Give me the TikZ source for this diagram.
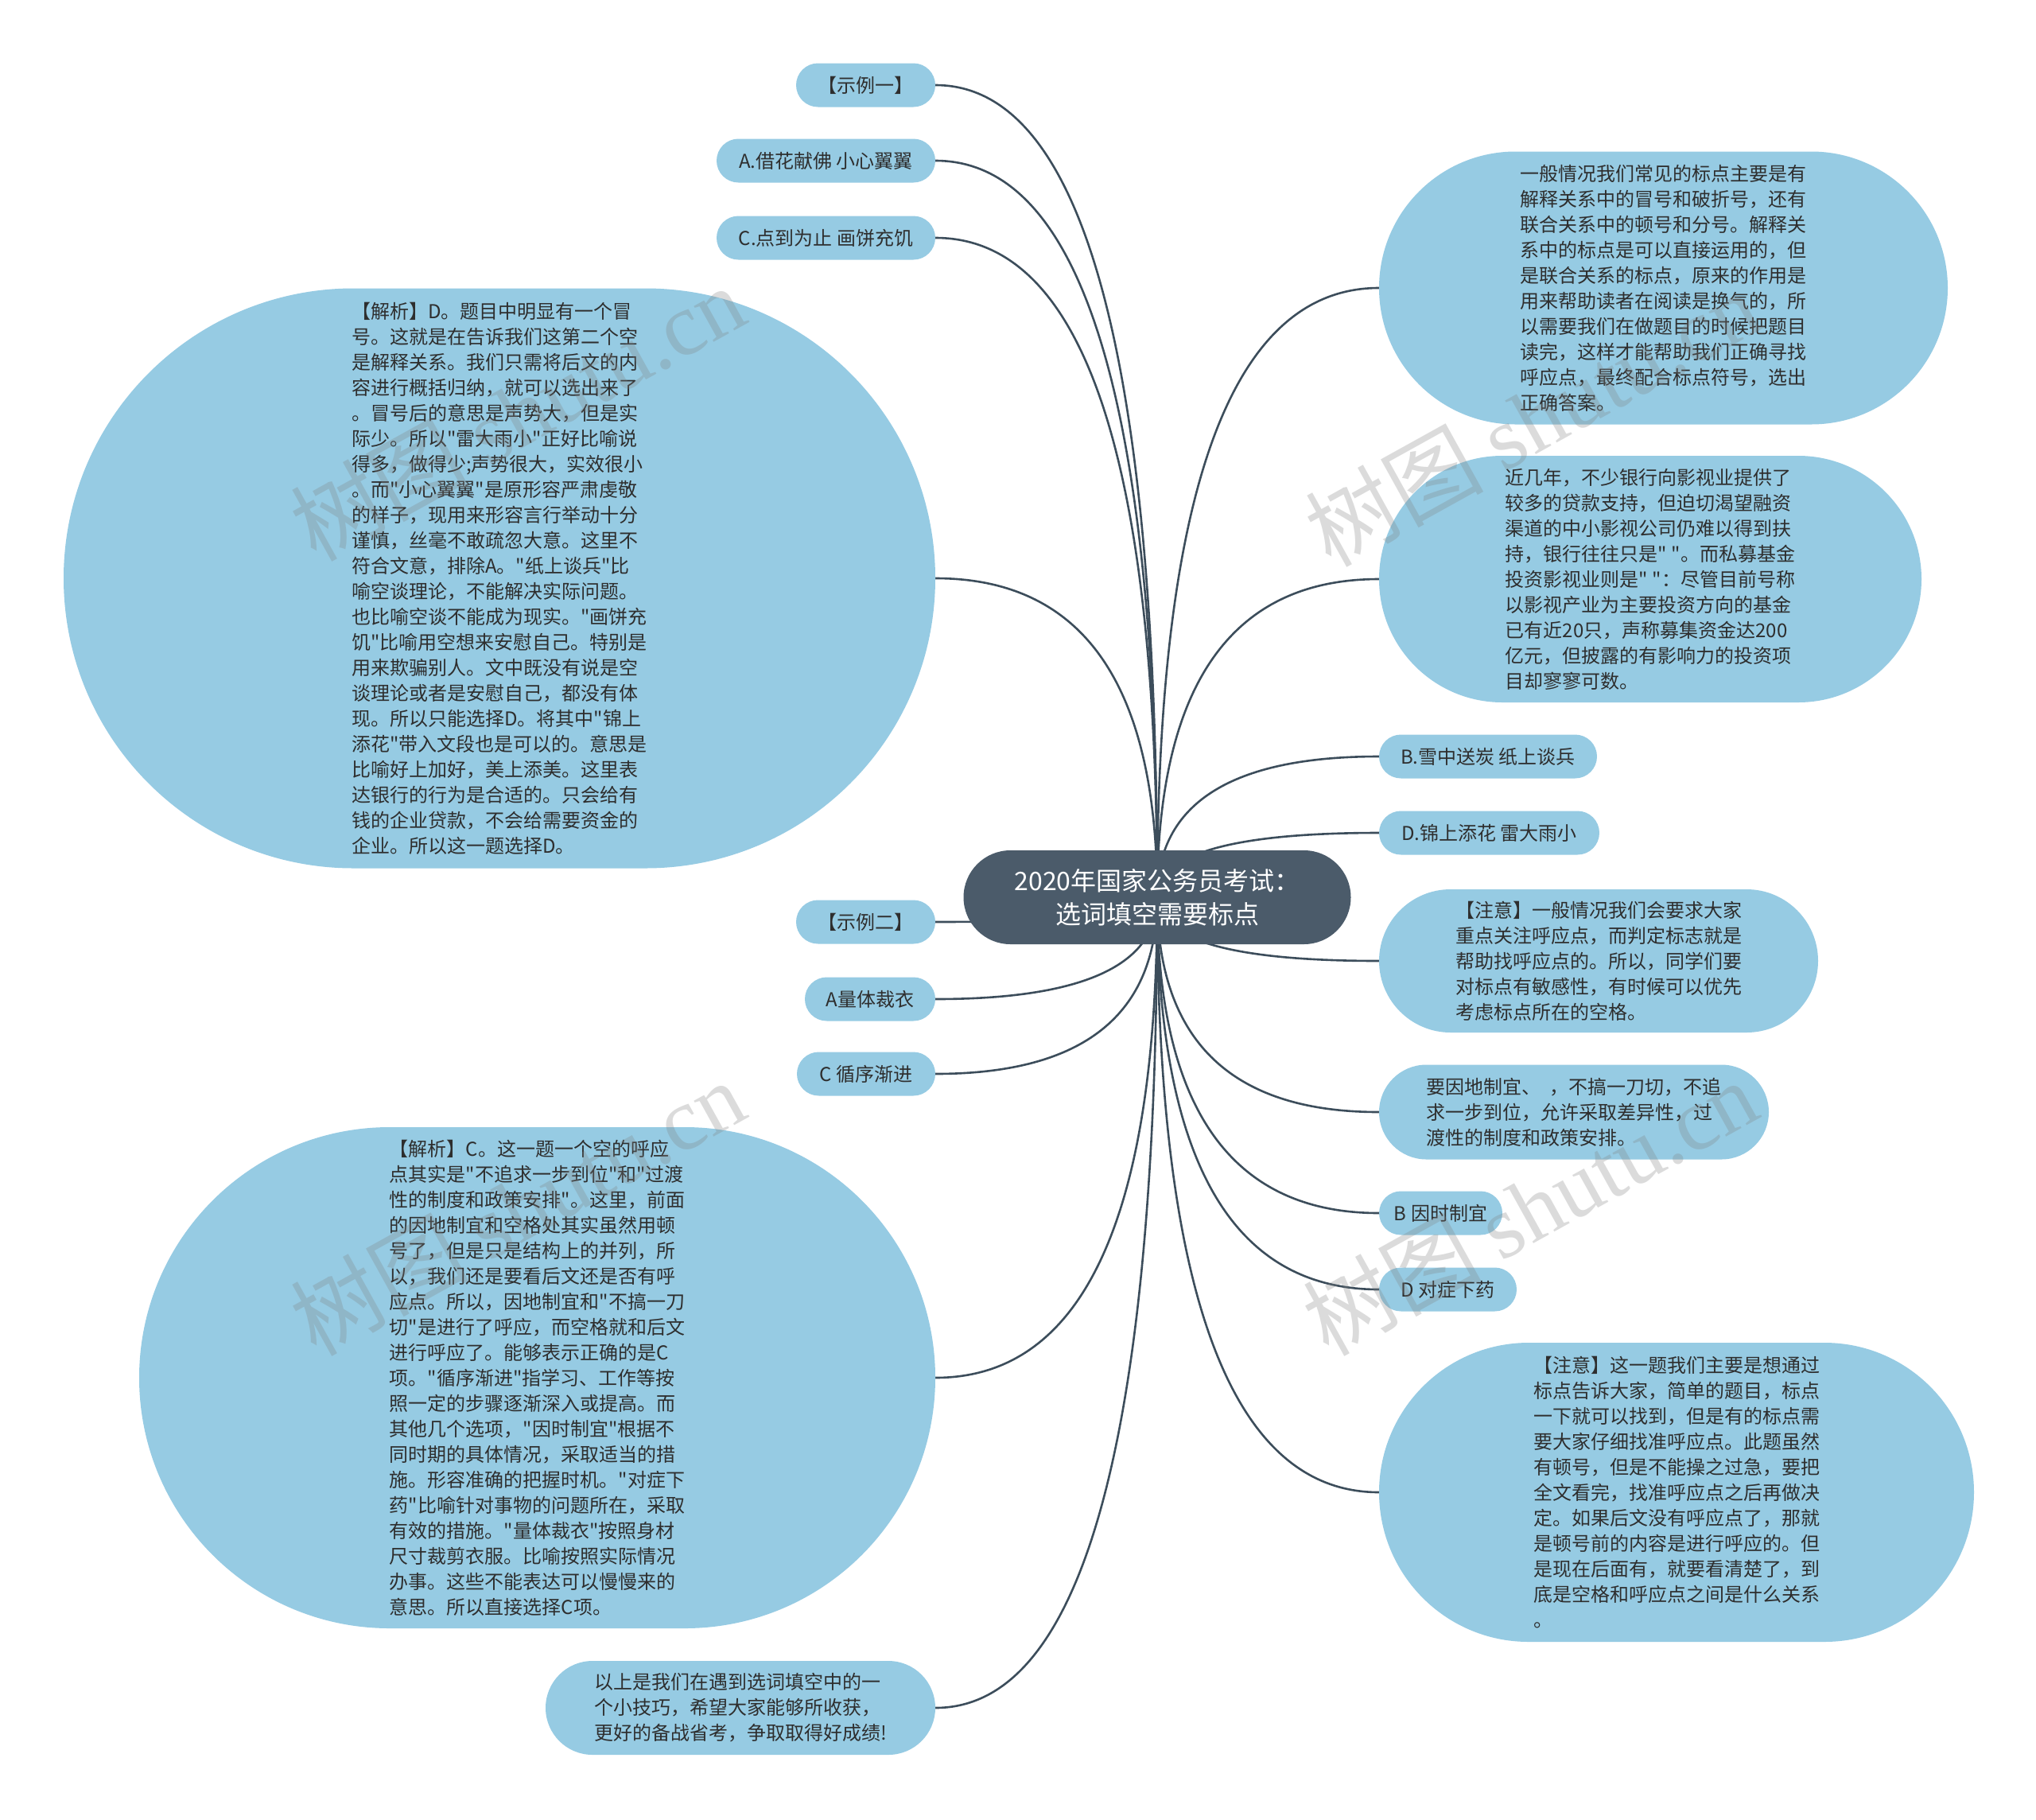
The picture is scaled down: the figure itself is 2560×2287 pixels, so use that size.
\documentclass[tikz,border=0pt]{standalone}
\usepackage{fontspec}
\setmainfont{Noto Sans CJK SC}[Ligatures=TeXOff]
\newfontfamily\wmserif{Liberation Serif}
\usetikzlibrary{shapes.misc,backgrounds,calc}
\definecolor{bubfill}{HTML}{96CBE3}
\definecolor{rootfill}{HTML}{4B5B6A}
\definecolor{linecol}{HTML}{3C4D5B}
\definecolor{txtcol}{HTML}{2E2E2E}
\newcommand\bubble[6]{%
  \node[bub, minimum width=#4pt, minimum height=#5pt] (#1) at (#2,#3) {};
  \node[txt] (#1t) at (#1.center) {#6};
}
\newcommand\linkto[1]{%
  \path (root.center |- #1) coordinate (kk);
  \draw[conn] (root.center) .. controls ($(root.center)!0.6667!(kk)$) and ($(#1)!0.6667!(kk)$) .. (#1);
}
\begin{document}
\begin{tikzpicture}[x=1pt,y=-1pt,
  bub/.style={rounded rectangle, fill=bubfill, draw=none, inner sep=0pt},
  txt/.style={align=left, inner sep=0pt, text=txtcol, font=\fontsize{24}{32}\selectfont},
  rootbox/.style={rounded rectangle, fill=rootfill, draw=none, minimum width=487pt, minimum height=118pt, inner sep=0pt},
  roottxt/.style={align=center, inner sep=0pt, text=white, font=\fontsize{32}{42}\selectfont},
  conn/.style={draw=linecol, line width=2.6pt},
  wm/.style={text=gray, opacity=0.28, rotate=29, inner sep=0pt, font=\fontsize{112}{112}\selectfont}]
\useasboundingbox (0,0) rectangle (2560,2287);

% root
\node[rootbox] (root) at (1455,1128) {};
\node[roottxt] (roott) at (root.center) {2020年国家公务员考试：\\选词填空需要标点};

% left side
\bubble{s1}{1088.5}{107}{175}{55}{【示例一】}
\bubble{s2}{1038.5}{202}{275}{55}{A.借花献佛 小心翼翼}
\bubble{s3}{1038.5}{299}{275}{55}{C.点到为止 画饼充饥}
\bubble{j1}{628}{727}{1096}{729}{【解析】D。题目中明显有一个冒\\号。这就是在告诉我们这第二个空\\是解释关系。我们只需将后文的内\\容进行概括归纳，就可以选出来了\\。冒号后的意思是声势大，但是实\\际少。所以"雷大雨小"正好比喻说\\得多，做得少;声势很大，实效很小\\。而"小心翼翼"是原形容严肃虔敬\\的样子，现用来形容言行举动十分\\谨慎，丝毫不敢疏忽大意。这里不\\符合文意，排除A。"纸上谈兵"比\\喻空谈理论，不能解决实际问题。\\也比喻空谈不能成为现实。"画饼充\\饥"比喻用空想来安慰自己。特别是\\用来欺骗别人。文中既没有说是空\\谈理论或者是安慰自己，都没有体\\现。所以只能选择D。将其中"锦上\\添花"带入文段也是可以的。意思是\\比喻好上加好，美上添美。这里表\\达银行的行为是合适的。只会给有\\钱的企业贷款，不会给需要资金的\\企业。所以这一题选择D。}
\bubble{s4}{1088.5}{1159}{175}{55}{【示例二】}
\bubble{s5}{1094}{1256}{164}{55}{A量体裁衣}
\bubble{s6}{1089}{1350}{174}{55}{C 循序渐进}
\bubble{j2}{675.5}{1732}{1001}{630}{【解析】C。这一题一个空的呼应\\点其实是"不追求一步到位"和"过渡\\性的制度和政策安排"。这里，前面\\的因地制宜和空格处其实虽然用顿\\号了，但是只是结构上的并列，所\\以，我们还是要看后文还是否有呼\\应点。所以，因地制宜和"不搞一刀\\切"是进行了呼应，而空格就和后文\\进行呼应了。能够表示正确的是C\\项。"循序渐进"指学习、工作等按\\照一定的步骤逐渐深入或提高。而\\其他几个选项，"因时制宜"根据不\\同时期的具体情况，采取适当的措\\施。形容准确的把握时机。"对症下\\药"比喻针对事物的问题所在，采取\\有效的措施。"量体裁衣"按照身材\\尺寸裁剪衣服。比喻按照实际情况\\办事。这些不能表达可以慢慢来的\\意思。所以直接选择C项。}
\bubble{e1}{931}{2147}{490}{118}{以上是我们在遇到选词填空中的一\\个小技巧，希望大家能够所收获，\\更好的备战省考，争取取得好成绩!}

% right side
\bubble{r1}{2091.5}{362}{715}{343}{一般情况我们常见的标点主要是有\\解释关系中的冒号和破折号，还有\\联合关系中的顿号和分号。解释关\\系中的标点是可以直接运用的，但\\是联合关系的标点，原来的作用是\\用来帮助读者在阅读是换气的，所\\以需要我们在做题目的时候把题目\\读完，这样才能帮助我们正确寻找\\呼应点，最终配合标点符号，选出\\正确答案。}
\bubble{r2}{2075}{728}{682}{310}{近几年，不少银行向影视业提供了\\较多的贷款支持，但迫切渴望融资\\渠道的中小影视公司仍难以得到扶\\持，银行往往只是" "。而私募基金\\投资影视业则是" "：尽管目前号称\\以影视产业为主要投资方向的基金\\已有近20只，声称募集资金达200\\亿元，但披露的有影响力的投资项\\目却寥寥可数。}
\bubble{r3}{1871}{951}{274}{55}{B.雪中送炭 纸上谈兵}
\bubble{r4}{1872.5}{1047}{277}{55}{D.锦上添花 雷大雨小}
\bubble{r5}{2010}{1208}{552}{180}{【注意】一般情况我们会要求大家\\重点关注呼应点，而判定标志就是\\帮助找呼应点的。所以，同学们要\\对标点有敏感性，有时候可以优先\\考虑标点所在的空格。}
\bubble{r6}{1979}{1398}{490}{119}{要因地制宜、\ \ ，不搞一刀切，不追\\求一步到位，允许采取差异性，过\\渡性的制度和政策安排。}
\bubble{r7}{1811.5}{1525}{155}{55}{B 因时制宜}
\bubble{r8}{1820.5}{1621}{173}{55}{D 对症下药}
\bubble{r9}{2108}{1876}{748}{376}{【注意】这一题我们主要是想通过\\标点告诉大家，简单的题目，标点\\一下就可以找到，但是有的标点需\\要大家仔细找准呼应点。此题虽然\\有顿号，但是不能操之过急，要把\\全文看完，找准呼应点之后再做决\\定。如果后文没有呼应点了，那就\\是顿号前的内容是进行呼应的。但\\是现在后面有，就要看清楚了，到\\底是空格和呼应点之间是什么关系\\。}

% connectors
\begin{scope}[on background layer]
\fill[white] (0,0) rectangle (2560,2287);
\foreach \t in {s1,s2,s3,j1,s4,s5,s6,j2,e1}{\linkto{\t.east}}
\foreach \t in {r1,r2,r3,r4,r5,r6,r7,r8,r9}{\linkto{\t.west}}
\end{scope}

% watermarks
\node[wm] (w1) at (650,519) {树图 {\wmserif shutu.cn}};
\node[wm] (w2) at (1926,526) {树图 {\wmserif shutu.cn}};
\node[wm] (w3) at (650,1518) {树图 {\wmserif shutu.cn}};
\node[wm] (w4) at (1923,1518) {树图 {\wmserif shutu.cn}};
\end{tikzpicture}
\end{document}
